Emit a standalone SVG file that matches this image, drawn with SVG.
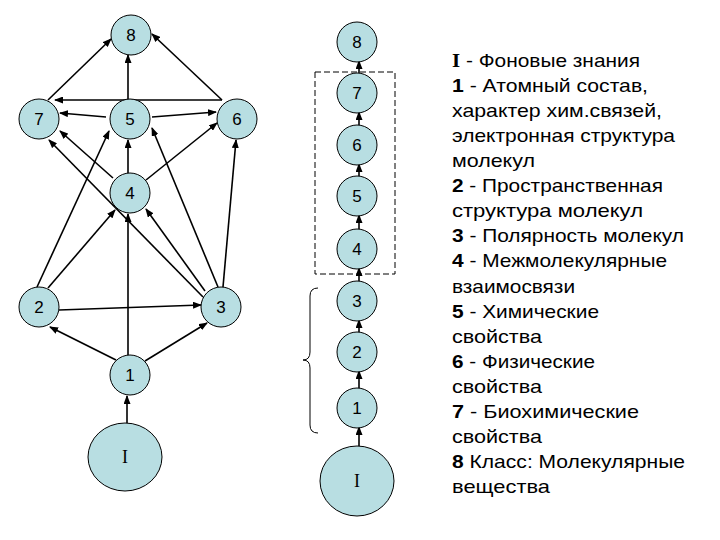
<svg xmlns="http://www.w3.org/2000/svg" width="720" height="540" viewBox="0 0 720 540">
<defs>
<marker id="ah" markerUnits="userSpaceOnUse" markerWidth="9" markerHeight="7" refX="8" refY="3.5" orient="auto">
<path d="M0,0 L9,3.5 L0,7 z" fill="#000"/>
</marker>
<style>
.n{fill:#b8dee2;stroke:#000;stroke-width:1}
.lb{font-family:"Liberation Sans",Arial,sans-serif;font-size:17px;text-anchor:middle;fill:#000}
.lr{font-family:"Liberation Serif","Times New Roman",serif;font-size:18px;text-anchor:middle;fill:#000}
.e{stroke:#000;stroke-width:1.6;fill:none;marker-end:url(#ah)}
.t text{font-family:"Liberation Sans",Arial,sans-serif;font-size:18.5px;fill:#000}
.b{font-weight:bold}
</style>
</defs>
<rect width="720" height="540" fill="#fff"/>

<g id="connectors">
<line class="e" x1="48" y1="100" x2="111" y2="39"/>
<line class="e" x1="222" y1="100" x2="152" y2="34"/>
<line class="e" x1="128" y1="99" x2="128" y2="55"/>
<line class="e" x1="222" y1="100" x2="55" y2="100"/>
<line class="e" x1="106" y1="117" x2="60" y2="113"/>
<line class="e" x1="152" y1="117" x2="216" y2="112"/>
<line class="e" x1="128" y1="173" x2="128" y2="140"/>
<line class="e" x1="37" y1="287" x2="109" y2="131"/>
<line class="e" x1="48" y1="288" x2="115" y2="210"/>
<line class="e" x1="113" y1="178" x2="60" y2="131"/>
<line class="e" x1="203" y1="297" x2="49" y2="140"/>
<line class="e" x1="146" y1="180" x2="217" y2="123"/>
<line class="e" x1="218" y1="287" x2="152" y2="128"/>
<line class="e" x1="205" y1="291" x2="146" y2="209"/>
<line class="e" x1="223" y1="287" x2="236" y2="140"/>
<line class="e" x1="59" y1="310" x2="201" y2="305"/>
<line class="e" x1="116" y1="360" x2="50" y2="327"/>
<line class="e" x1="145" y1="361" x2="207" y2="323"/>
<line class="e" x1="128" y1="355" x2="128" y2="214"/>
<line class="e" x1="127" y1="423" x2="127" y2="396"/>

<line class="e" x1="359" y1="73" x2="359" y2="61"/>
<line class="e" x1="359" y1="125" x2="359" y2="112"/>
<line class="e" x1="359" y1="176" x2="359" y2="164"/>
<line class="e" x1="359" y1="229" x2="359" y2="215"/>
<line class="e" x1="359" y1="281" x2="359" y2="268"/>
<line class="e" x1="359" y1="332" x2="359" y2="320"/>
<line class="e" x1="359" y1="388" x2="359" y2="371"/>
<line class="e" x1="359" y1="446" x2="359" y2="427"/>

<rect x="315" y="72" width="80" height="202" fill="none" stroke="#000" stroke-width="1" stroke-dasharray="6,3"/>
<path d="M318,288 Q310,288 310,296 L310,352 Q310,360 303,360 Q310,360 310,368 L310,425 Q310,433 318,433" fill="none" stroke="#000" stroke-width="1"/>
</g>

<g id="L8"><circle class="n" cx="131" cy="35" r="20"/><text class="lb" x="131" y="41">8</text></g>
<g id="L7"><circle class="n" cx="39" cy="119" r="20"/><text class="lb" x="39" y="125">7</text></g>
<g id="L5"><circle class="n" cx="130" cy="119" r="20"/><text class="lb" x="130" y="125">5</text></g>
<g id="L6"><circle class="n" cx="237" cy="119" r="20"/><text class="lb" x="237" y="125">6</text></g>
<g id="L4"><circle class="n" cx="130" cy="193" r="20"/><text class="lb" x="130" y="199">4</text></g>
<g id="L2"><circle class="n" cx="39" cy="307" r="20"/><text class="lb" x="39" y="313">2</text></g>
<g id="L3"><circle class="n" cx="221" cy="307" r="20"/><text class="lb" x="221" y="313">3</text></g>
<g id="L1"><circle class="n" cx="130" cy="375" r="20"/><text class="lb" x="130" y="381">1</text></g>
<g id="LI"><ellipse class="n" cx="125" cy="457" rx="37" ry="34"/><text class="lr" x="125" y="463">I</text></g>

<g id="M8"><circle class="n" cx="357" cy="42" r="20"/><text class="lb" x="357" y="48">8</text></g>
<g id="M7"><circle class="n" cx="357" cy="93" r="20"/><text class="lb" x="357" y="99">7</text></g>
<g id="M6"><circle class="n" cx="357" cy="145" r="20"/><text class="lb" x="357" y="151">6</text></g>
<g id="M5"><circle class="n" cx="357" cy="196" r="20"/><text class="lb" x="357" y="202">5</text></g>
<g id="M4"><circle class="n" cx="357" cy="249" r="20"/><text class="lb" x="357" y="255">4</text></g>
<g id="M3"><circle class="n" cx="357" cy="301" r="20"/><text class="lb" x="357" y="307">3</text></g>
<g id="M2"><circle class="n" cx="357" cy="352" r="20"/><text class="lb" x="357" y="358">2</text></g>
<g id="M1"><circle class="n" cx="357" cy="408" r="20"/><text class="lb" x="357" y="414">1</text></g>
<g id="MI"><ellipse class="n" cx="357" cy="481" rx="37" ry="35"/><text class="lr" x="357" y="487">I</text></g>

<g id="legend" class="t" xml:space="preserve">
<text x="452" y="67" textLength="188" lengthAdjust="spacingAndGlyphs"><tspan class="b" font-family="'Liberation Serif',serif">I</tspan> - Фоновые знания</text>
<text x="452" y="92" textLength="196" lengthAdjust="spacingAndGlyphs"><tspan class="b">1</tspan> - Атомный состав,</text>
<text x="452" y="117" textLength="210" lengthAdjust="spacingAndGlyphs">характер хим.связей,</text>
<text x="452" y="142" textLength="223" lengthAdjust="spacingAndGlyphs">электронная структура</text>
<text x="452" y="167" textLength="83" lengthAdjust="spacingAndGlyphs">молекул</text>
<text x="452" y="192" textLength="211" lengthAdjust="spacingAndGlyphs"><tspan class="b">2</tspan> - Пространственная</text>
<text x="452" y="217" textLength="191" lengthAdjust="spacingAndGlyphs">структура молекул</text>
<text x="452" y="242" textLength="232" lengthAdjust="spacingAndGlyphs"><tspan class="b">3</tspan> - Полярность молекул</text>
<text x="452" y="267" textLength="215" lengthAdjust="spacingAndGlyphs"><tspan class="b">4</tspan> - Межмолекулярные</text>
<text x="452" y="293" textLength="123" lengthAdjust="spacingAndGlyphs">взаимосвязи</text>
<text x="452" y="318" textLength="147" lengthAdjust="spacingAndGlyphs"><tspan class="b">5</tspan> - Химические</text>
<text x="452" y="343" textLength="90" lengthAdjust="spacingAndGlyphs">свойства</text>
<text x="452" y="368" textLength="143" lengthAdjust="spacingAndGlyphs"><tspan class="b">6</tspan> - Физические</text>
<text x="452" y="393" textLength="90" lengthAdjust="spacingAndGlyphs">свойства</text>
<text x="452" y="418" textLength="187" lengthAdjust="spacingAndGlyphs"><tspan class="b">7</tspan>  - Биохимические</text>
<text x="452" y="443" textLength="90" lengthAdjust="spacingAndGlyphs">свойства</text>
<text x="452" y="468" textLength="233" lengthAdjust="spacingAndGlyphs"><tspan class="b">8</tspan> Класс: Молекулярные</text>
<text x="452" y="493" textLength="98" lengthAdjust="spacingAndGlyphs">вещества</text>
</g>
</svg>
